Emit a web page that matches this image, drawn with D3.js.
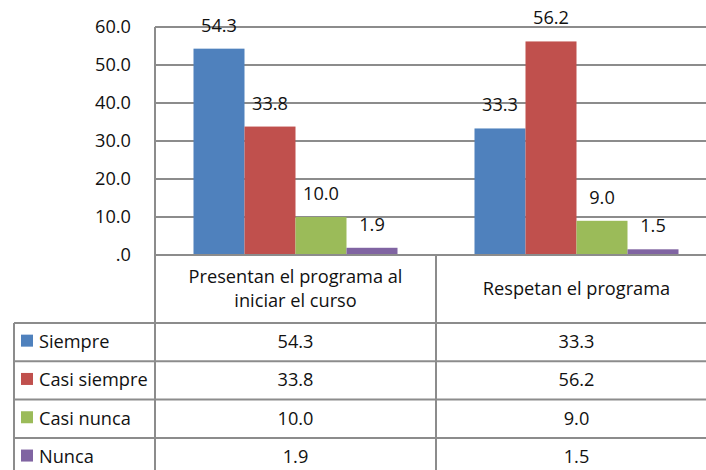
<!DOCTYPE html>
<html>
<head>
<meta charset="utf-8">
<script src="https://cdn.jsdelivr.net/npm/d3@7"></script>
<style>
  html, body { margin: 0; padding: 0; background: #fff; }
  svg { display: block; }
  text { font-family: "Open Sans", "Noto Sans", sans-serif; font-size: 18.2px; fill: #111; }
</style>
</head>
<body>
<svg id="chart" width="706" height="470"></svg>
<script>
// ---- data ----
const categories = ["Presentan el programa al iniciar el curso", "Respetan el programa"];
const categoryLines = [["Presentan el programa al", "iniciar el curso"], ["Respetan el programa"]];
const seriesNames = ["Siempre", "Casi siempre", "Casi nunca", "Nunca"];
const siempre = [54.3, 33.3];
const casiSiempre = [33.8, 56.2];
const casiNunca = [10.0, 9.0];
const nunca = [1.9, 1.5];
const yTicks = [0, 10, 20, 30, 40, 50, 60];

const seriesValues = [siempre, casiSiempre, casiNunca, nunca];
const colors = ["#4F81BD", "#C0504D", "#9BBB59", "#8064A2"];
const fmt = v => v === 0 ? ".0" : d3.format(".1f")(v);

// ---- layout ----
const W = 706, H = 470;
const plotLeft = 155, plotRight = 717, plotTop = 27, plotBottom = 255;
const tableLeft = 14;
const headerBottom = 323;
const rowH = 38.3;
const lineColor = "#8c8c8c";

const svg = d3.select("#chart");

const y = d3.scaleLinear().domain([0, 60]).range([plotBottom, plotTop]);
const x = d3.scaleBand().domain(categories).range([plotLeft, plotRight]).padding(0);
const gap = x.bandwidth() * 0.137;
const xs = d3.scaleBand().domain(seriesNames).range([gap, x.bandwidth() - gap]).padding(0);

// gridlines
svg.append("g").selectAll("line").data(yTicks).join("line")
  .attr("x1", plotLeft).attr("x2", W)
  .attr("y1", d => y(d)).attr("y2", d => y(d))
  .attr("stroke", lineColor).attr("stroke-width", 2);

// y axis labels
const yAxis = d3.axisLeft(y).tickValues(yTicks).tickFormat(fmt).tickSize(0).tickPadding(24);
const ga = svg.append("g").attr("transform", `translate(${plotLeft},0)`).call(yAxis);
ga.select(".domain").remove();
ga.selectAll("text").attr("font-family", null).attr("font-size", null).style("fill", "#111");

// bars
const groups = svg.append("g").selectAll("g").data(categories).join("g")
  .attr("transform", d => `translate(${x(d)},0)`);
groups.each(function(cat, ci) {
  const g = d3.select(this);
  seriesNames.forEach((s, si) => {
    const v = seriesValues[si][ci];
    g.append("rect")
      .attr("x", xs(s)).attr("width", xs.bandwidth())
      .attr("y", y(v)).attr("height", y(0) - y(v))
      .attr("fill", colors[si]);
    g.append("text")
      .attr("x", xs(s) + xs.bandwidth() / 2)
      .attr("y", y(v) - 17)
      .attr("text-anchor", "middle")
      .text(fmt(v));
  });
});

// table lines
const tl = svg.append("g").attr("stroke", lineColor).attr("stroke-width", 2);
tl.append("line").attr("x1", plotLeft).attr("x2", W).attr("y1", plotBottom).attr("y2", plotBottom);
tl.append("line").attr("x1", plotLeft).attr("x2", plotLeft).attr("y1", plotTop).attr("y2", H);
categories.slice(1).forEach(c => {
  tl.append("line").attr("x1", x(c)).attr("x2", x(c)).attr("y1", plotBottom).attr("y2", H);
});
tl.append("line").attr("x1", tableLeft).attr("x2", tableLeft).attr("y1", headerBottom).attr("y2", H);
seriesNames.forEach((s, i) => {
  const yy = headerBottom + i * rowH;
  tl.append("line").attr("x1", tableLeft).attr("x2", W).attr("y1", yy).attr("y2", yy);
});

// header category labels
categories.forEach((c, ci) => {
  const lines = categoryLines[ci];
  const cx = x(c) + x.bandwidth() / 2;
  const mid = (plotBottom + headerBottom) / 2;
  const lh = 24;
  lines.forEach((ln, li) => {
    svg.append("text")
      .attr("x", cx)
      .attr("y", mid + (li - (lines.length - 1) / 2) * lh + 6)
      .attr("text-anchor", "middle")
      .text(ln);
  });
});

// table rows
seriesNames.forEach((s, si) => {
  const top = headerBottom + si * rowH;
  const cy = top + rowH / 2;
  svg.append("rect").attr("x", 21).attr("y", cy - 7.5).attr("width", 12).attr("height", 12).attr("fill", colors[si]);
  svg.append("text").attr("x", 39).attr("y", cy + 6).text(s);
  categories.forEach((c, ci) => {
    svg.append("text")
      .attr("x", x(c) + x.bandwidth() / 2)
      .attr("y", cy + 6)
      .attr("text-anchor", "middle")
      .text(fmt(seriesValues[si][ci]));
  });
});
</script>
</body>
</html>
